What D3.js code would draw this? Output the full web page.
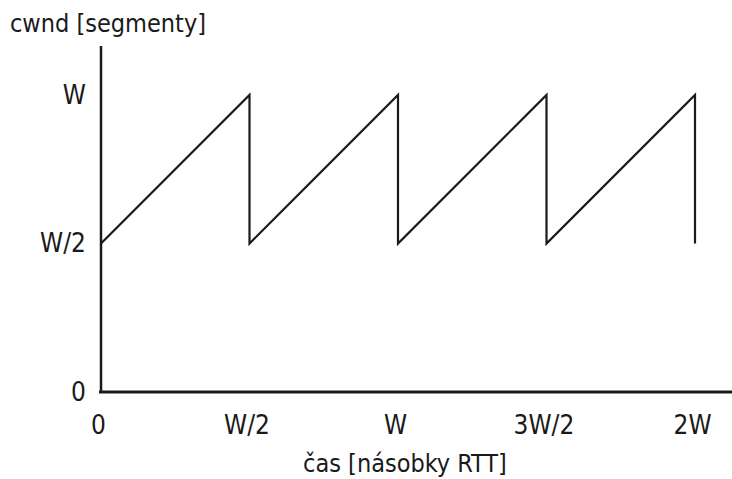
<!DOCTYPE html>
<html>
<head>
<meta charset="utf-8">
<script src="https://cdn.jsdelivr.net/npm/d3@7"></script>
<style>
  body { margin: 0; background: #fff; }
  text { font-family: "DejaVu Sans Condensed", "Liberation Sans Narrow", "Roboto", sans-serif; fill: #1a1a1a; }
</style>
</head>
<body>
<div id="chart"></div>
<script>
// *** DATA ***
let xTicks = [0, 0.5, 1, 1.5, 2];
let xTickLabels = ["0", "W/2", "W", "3W/2", "2W"];
let yTicks = [0, 0.5, 1];
let yTickLabels = ["0", "W/2", "W"];

// sawtooth: cwnd (in W) against time (in W RTTs)
let time = [0, 0.5, 0.5, 1, 1, 1.5, 1.5, 2, 2];
let cwnd = [0.5, 1, 0.5, 1, 0.5, 1, 0.5, 1, 0.5];

let yTitle = "cwnd [segmenty]";
let xTitle = "čas [násobky RTT]";

// *** SETTINGS ***
let width = 732, height = 479;
let margin = {left: 101, right: 37, top: 95, bottom: 87};
let ink = "#1a1a1a";

let svg = d3.select("#chart").append("svg")
  .attr("width", width)
  .attr("height", height);

let x = d3.scaleLinear()
  .domain([0, 2])
  .range([margin.left, width - margin.right]);

let y = d3.scaleLinear()
  .domain([0, 1])
  .range([height - margin.bottom, margin.top]);

//Axis lines
svg.append("line")
  .attr("x1", x(0))
  .attr("x2", x(0))
  .attr("y1", y(0))
  .attr("y2", y(1.165))
  .style("stroke", ink)
  .style("stroke-width", 2.5);

svg.append("line")
  .attr("x1", x(0) - 2)
  .attr("x2", width)
  .attr("y1", y(0))
  .attr("y2", y(0))
  .style("stroke", ink)
  .style("stroke-width", 2.8);

//Tick labels
let xAxis = svg.append("g")
  .attr("transform", `translate(0, ${y(0) + 21})`)
  .call(d3.axisBottom(x)
    .tickValues(xTicks)
    .tickSize(0)
    .tickFormat((d, i) => xTickLabels[i]));
xAxis.select(".domain").remove();
xAxis.selectAll("text")
  .attr("dx", -3)
  .style("font-size", "26px")
  .style("font-family", null)
  .style("fill", null);

let yAxis = svg.append("g")
  .attr("transform", `translate(${x(0) - 12}, 0)`)
  .call(d3.axisLeft(y)
    .tickValues(yTicks)
    .tickSize(0)
    .tickFormat((d, i) => yTickLabels[i]));
yAxis.select(".domain").remove();
yAxis.selectAll("text")
  .style("font-size", "26px")
  .style("font-family", null)
  .style("fill", null);

//Sawtooth line
let line = d3.line()
  .x((d, i) => x(time[i]))
  .y(d => y(d));

svg.append("path")
  .datum(cwnd)
  .attr("d", line)
  .attr("fill", "none")
  .attr("stroke", ink)
  .attr("stroke-width", 2.2)
  .attr("stroke-linejoin", "miter");

//Titles
svg.append("text")
  .attr("x", 10)
  .attr("y", 32)
  .style("font-size", "25px")
  .text(yTitle);

svg.append("text")
  .attr("x", x(1) + 7)
  .attr("y", 472)
  .attr("text-anchor", "middle")
  .style("font-size", "25px")
  .text(xTitle);
</script>
</body>
</html>
